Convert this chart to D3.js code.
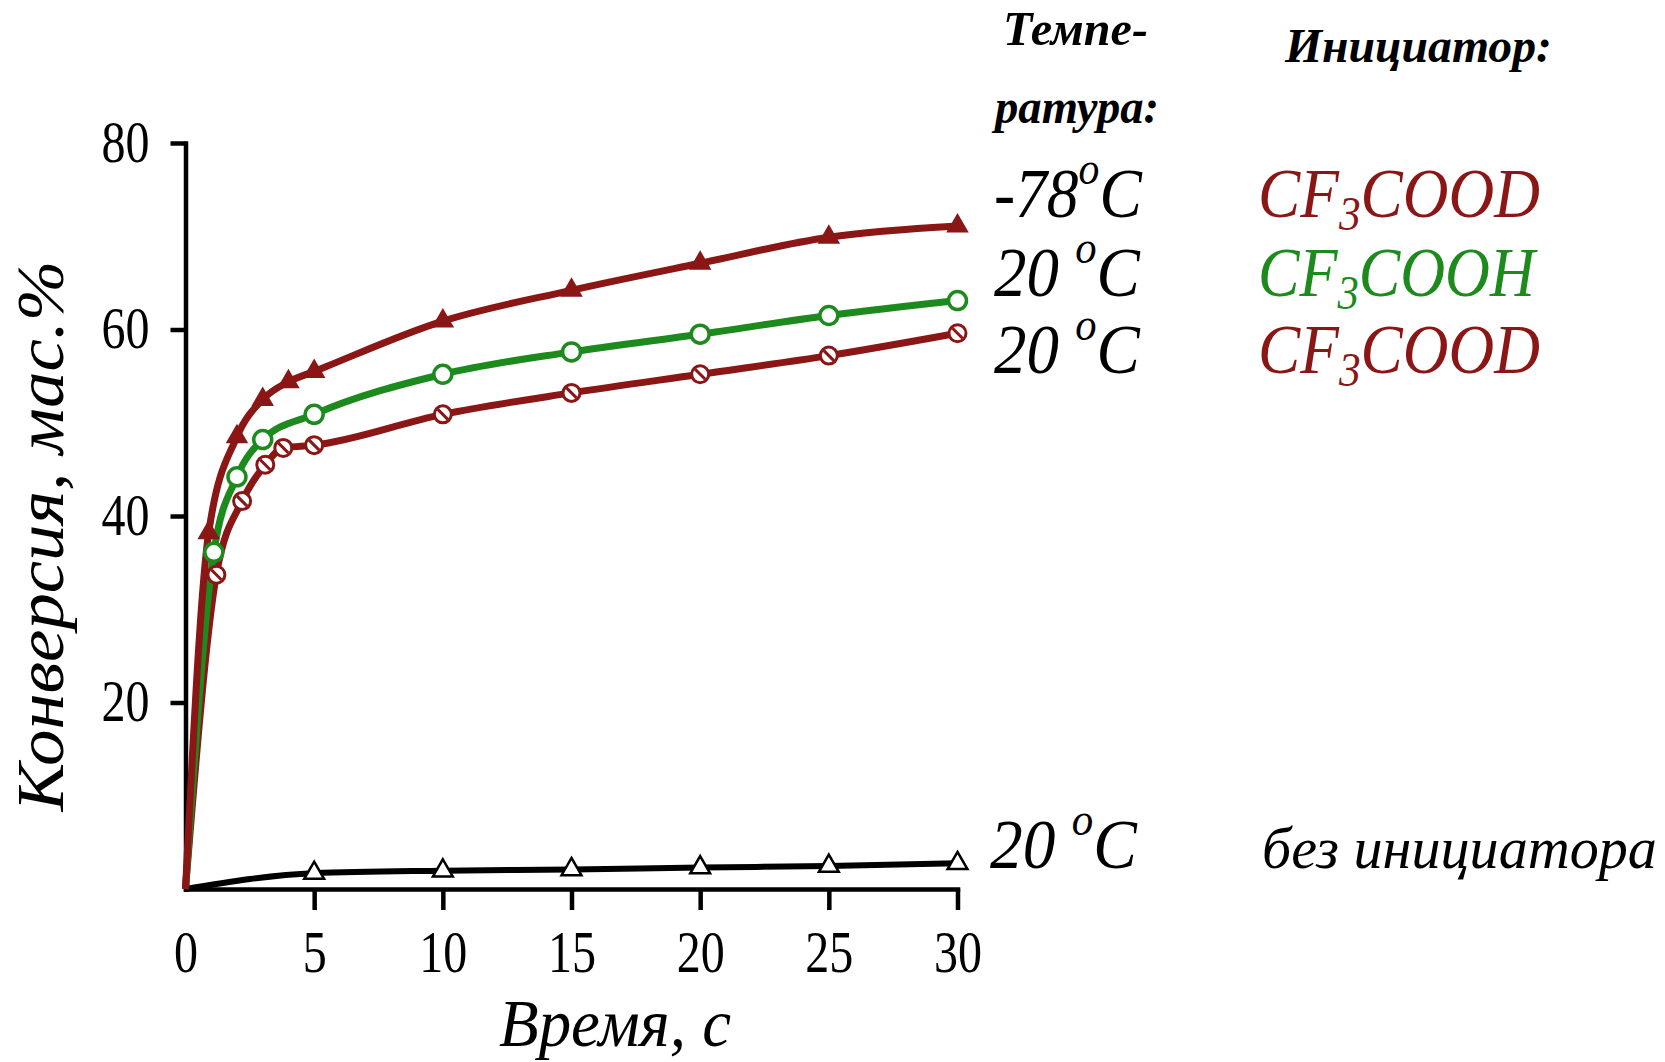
<!DOCTYPE html>
<html>
<head>
<meta charset="utf-8">
<script src="https://cdn.jsdelivr.net/npm/d3@7"></script>
<style>
  body { margin: 0; background: #fff; }
  text { font-family: "Liberation Serif", "Times New Roman", serif; }
</style>
</head>
<body>
<script>
// axis ticks
const xTicks = [0, 5, 10, 15, 20, 25, 30]
const yTicks = [20, 40, 60, 80]

// -78 C, CF3COOD (filled triangles)
const timeD78 = [0, 0.9, 2, 3, 4, 5, 10, 15, 20, 25, 30]
const convD78 = [0, 38.2, 48.5, 52.5, 54.4, 55.5, 60.9, 64.2, 67.1, 69.9, 71.1]
// 20 C, CF3COOH (open circles)
const timeH20 = [0, 1.1, 2, 3, 5, 10, 15, 20, 25, 30]
const convH20 = [0, 36.1, 44.2, 48.2, 50.9, 55.2, 57.6, 59.5, 61.5, 63.1]
// 20 C, CF3COOD (striped circles)
const timeD20 = [0, 1.2, 2.2, 3.1, 3.8, 5, 10, 15, 20, 25, 30]
const convD20 = [0, 33.7, 41.6, 45.5, 47.3, 47.6, 50.9, 53.2, 55.2, 57.2, 59.6]
// 20 C, no initiator (open triangles)
const timeNone = [0, 5, 10, 15, 20, 25, 30]
const convNone = [0, 1.7, 1.96, 2.1, 2.3, 2.46, 2.75]

// legend texts
const headTemp = ['Темпе-', 'ратура:']
const headInit = 'Инициатор:'
const tempLabels = ['-78°C', '20 °C', '20 °C', '20 °C']
const initLabels = ['CF3COOD', 'CF3COOH', 'CF3COOD', 'без инициатора']

const red = '#8a1616'
const green = '#1d8a1d'

const W = 1665, H = 1062
const svg = d3.select('body').append('svg')
    .attr('width', W)
    .attr('height', H)

const x = d3.scaleLinear().domain([0, 30]).range([185.5, 957.5])
const y = d3.scaleLinear().domain([0, 80]).range([889, 143])

//x axis
const gx = svg.append('g')
    .attr('transform', `translate(0,${y(0)})`)
    .call(d3.axisBottom(x).tickValues(xTicks).tickSize(21).tickSizeOuter(0).tickFormat(d3.format('d')))
gx.select('.domain').attr('stroke-width', 4.5).attr('stroke-linecap', 'square')
gx.selectAll('.tick line').attr('stroke-width', 4.5)
    .filter(d => d === 0).remove()
gx.selectAll('.tick text')
    .attr('font-size', 60)
    .attr('font-family', '"Liberation Serif", serif')
    .attr('fill', '#000')
    .attr('y', 0).attr('dy', 0)
    .attr('transform', 'translate(0,83) scale(0.8,1)')

//y axis
const gy = svg.append('g')
    .attr('transform', `translate(${x(0)},0)`)
    .call(d3.axisLeft(y).tickValues(yTicks).tickSize(15).tickSizeOuter(0))
gy.select('.domain').attr('stroke-width', 4.5).attr('stroke-linecap', 'square')
gy.selectAll('.tick line').attr('stroke-width', 4.5)
gy.selectAll('.tick text')
    .attr('font-size', 60)
    .attr('font-family', '"Liberation Serif", serif')
    .attr('fill', '#000')
    .attr('x', 0).attr('dy', '0.3em')
    .attr('transform', 'translate(-36,0) scale(0.8,1)')

// series
const series = [
    {t: timeNone, v: convNone, color: '#000', width: 6, mark: 'openTri'},
    {t: timeD20, v: convD20, color: red, width: 7, mark: 'striped'},
    {t: timeH20, v: convH20, color: green, width: 7, mark: 'circle'},
    {t: timeD78, v: convD78, color: red, width: 7, mark: 'filledTri'}
]

const line = d3.line()
    .x(d => x(d[0]))
    .y(d => y(d[1]))
    .curve(d3.curveMonotoneX)

series.forEach(s => {
    const pts = s.t.map((t, i) => [t, s.v[i]])
    svg.append('path')
        .datum(pts)
        .attr('d', line)
        .attr('fill', 'none')
        .attr('stroke', s.color)
        .attr('stroke-width', s.width)
        .attr('stroke-linejoin', 'round')
})

series.forEach(s => {
    const pts = s.t.map((t, i) => [t, s.v[i]]).slice(1)
    const g = svg.append('g')
    const m = g.selectAll('g').data(pts).enter().append('g')
        .attr('transform', d => `translate(${x(d[0])},${y(d[1])})`)
    if (s.mark === 'filledTri') {
        m.append('path')
            .attr('d', d3.symbol(d3.symbolTriangle, 220))
            .attr('fill', s.color)
    } else if (s.mark === 'openTri') {
        m.append('path')
            .attr('d', d3.symbol(d3.symbolTriangle, 170))
            .attr('fill', '#fff')
            .attr('stroke', '#000')
            .attr('stroke-width', 2.5)
    } else if (s.mark === 'circle') {
        m.append('circle').attr('r', 9)
            .attr('fill', '#fff').attr('stroke', s.color).attr('stroke-width', 3.5)
    } else {
        m.append('circle').attr('r', 8.5)
            .attr('fill', '#fff').attr('stroke', s.color).attr('stroke-width', 3)
        m.append('line')
            .attr('x1', -5).attr('y1', -5).attr('x2', 5).attr('y2', 5)
            .attr('stroke', s.color).attr('stroke-width', 3)
    }
})

// squeeze a text horizontally so it spans the given width
function place(t, px, py, width, rot) {
    const w = t.node().getBBox().width
    const k = width / w
    t.attr('transform', `translate(${px},${py})${rot ? ' rotate(' + rot + ')' : ''} scale(${k},1)`)
}

// axis titles
const xt = svg.append('text')
    .attr('font-size', 68).attr('font-style', 'italic')
    .attr('text-anchor', 'middle')
    .text('Время, с')
place(xt, 615, 1046, 232)

const yt = svg.append('text')
    .attr('font-size', 68).attr('font-style', 'italic')
    .attr('text-anchor', 'middle')
    .text('Конверсия, мас.%')
place(yt, 63, 536, 552, -90)

// headers
const h1 = svg.append('text').attr('font-size', 48).attr('font-weight', 'bold').attr('font-style', 'italic').text(headTemp[0])
place(h1, 1003, 45, 145)
const h2 = svg.append('text').attr('font-size', 48).attr('font-weight', 'bold').attr('font-style', 'italic').text(headTemp[1])
place(h2, 995, 123, 168)
const h3 = svg.append('text').attr('font-size', 48).attr('font-weight', 'bold').attr('font-style', 'italic').text(headInit)
place(h3, 1285, 62, 268)

// legend rows
const rowY = [217, 296, 373, 868]
const rowColor = [red, green, red, '#000']
const tempW = [149, 147, 147, 148]
const initW = [282, 280, 282, 395]

tempLabels.forEach((lab, i) => {
    const t = svg.append('text').attr('font-size', 70).attr('font-style', 'italic').attr('fill', '#000')
    const parts = lab.split('°')
    t.append('tspan').text(parts[0])
    t.append('tspan').attr('font-size', 46).attr('dy', -33).text('o')
    t.append('tspan').attr('dy', 33).text(parts[1])
    place(t, i === 3 ? 990 : 994, rowY[i], tempW[i])
})

initLabels.forEach((lab, i) => {
    const t = svg.append('text').attr('font-style', 'italic').attr('fill', rowColor[i])
    if (i === 3) {
        t.attr('font-size', 60).text(lab)
        place(t, 1262, rowY[i], initW[i])
        return
    }
    t.attr('font-size', 70)
    let sub = false
    lab.split(/(\d)/).forEach(p => {
        if (/\d/.test(p)) {
            t.append('tspan').attr('font-size', 48).attr('dy', 13).text(p)
            sub = true
        } else if (p.length) {
            t.append('tspan').attr('dy', sub ? -13 : 0).text(p)
            sub = false
        }
    })
    place(t, 1258, rowY[i], initW[i])
})
</script>
</body>
</html>
